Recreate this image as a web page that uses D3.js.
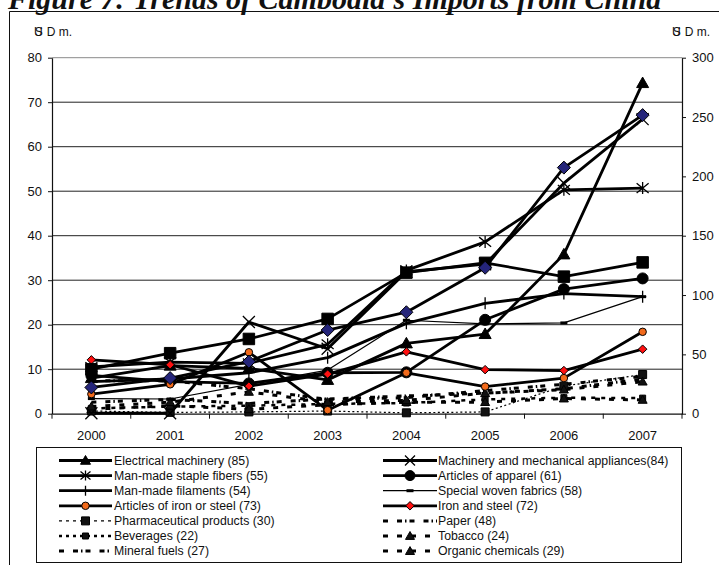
<!DOCTYPE html>
<html>
<head>
<meta charset="utf-8">
<script src="https://cdn.jsdelivr.net/npm/d3@7"></script>
<style>
  html, body { margin: 0; padding: 0; background: #fff; }
  svg { display: block; }
  text { font-family: "Liberation Sans", Arial, sans-serif; fill: #111; }
</style>
</head>
<body>
<svg id="chart" width="719" height="565"></svg>
<script>
// ---- data (US$ million) ----
const years = ["2000", "2001", "2002", "2003", "2004", "2005", "2006", "2007"];
const leftTicks = [0, 10, 20, 30, 40, 50, 60, 70, 80];
const rightTicks = [0, 50, 100, 150, 200, 250, 300];

const electricalMachinery = [8.0, 10.8, 10.2, 7.6, 15.8, 17.9, 35.8, 74.3];
const machineryAppliances = [0.1, 0.1, 20.6, 14.6, 31.9, 33.6, 51.8, 66.2];
const stapleFibers        = [10.5, 11.6, 11.3, 15.6, 32.2, 38.6, 50.3, 50.7];
const apparel             = [8.6, 7.2, 6.8, 9.2, 9.3, 21.1, 28.0, 30.4];
const filaments           = [7.2, 7.8, 9.2, 12.6, 20.3, 24.8, 27.0, 26.3];
const wovenFabrics        = [3.4, 3.3, 6.6, 9.8, 21.0, 20.2, 20.4, 26.3];
const ironSteelArticles   = [4.4, 6.6, 13.8, 0.8, 9.2, 6.1, 8.0, 18.4];
const ironSteel           = [12.1, 11.0, 6.2, 8.9, 13.9, 9.9, 9.7, 14.5];
const pharmaceuticals     = [0.6, 0.3, 0.4, 0.6, 0.2, 0.4, 6.2, 8.8];
const paper               = [7.4, 7.4, 5.6, 3.2, 3.6, 5.2, 6.6, 8.4];
const beverages           = [1.2, 1.6, 1.8, 2.2, 2.4, 3.2, 3.6, 3.5];
const tobacco             = [1.0, 1.8, 1.0, 2.0, 2.6, 2.6, 3.4, 3.1];
const mineralFuels        = [2.6, 3.2, 2.3, 3.3, 4.0, 4.6, 5.6, 7.8];
const organicChemicals    = [1.6, 2.6, 4.9, 2.6, 3.0, 4.6, 5.4, 7.2];
const unlistedSquares     = [10.0, 13.6, 16.8, 21.3, 31.7, 33.9, 30.8, 34.0];
const unlistedDiamonds    = [5.9, 8.0, 11.7, 18.8, 22.8, 32.8, 55.3, 67.1];

// ---- series styling ----
const DASH_LONG = "5,9";
const DASH_DOT = "5,9,5,3,1.5,3";
const series = [
  { name: "Pharmaceutical products (30)", values: pharmaceuticals, width: 1.2, dash: "2,2.5", legendDash: "3,4", marker: "square", size: 8, fill: "#111" },
  { name: "Beverages (22)", values: beverages, width: 2.5, dash: "4,6", legendDash: "3,4", marker: "square", size: 6, fill: "#111" },
  { name: "Paper (48)", values: paper, width: 3, dash: DASH_DOT, marker: null },
  { name: "Tobacco (24)", values: tobacco, width: 3, dash: DASH_LONG, marker: "triangle", size: 9, fill: "#111" },
  { name: "Mineral fuels (27)", values: mineralFuels, width: 3, dash: DASH_DOT, marker: null },
  { name: "Organic chemicals (29)", values: organicChemicals, width: 3, dash: DASH_LONG, marker: "triangle", size: 9, fill: "#111" },
  { name: "Special woven fabrics (58)", values: wovenFabrics, width: 1.2, dash: null, marker: "dash", size: 7, fill: "#111" },
  { name: "Man-made filaments (54)", values: filaments, width: 2.8, dash: null, marker: "plus", size: 12, fill: "none" },
  { name: "Articles of apparel (61)", values: apparel, width: 2.8, dash: null, marker: "circle", size: 11, fill: "#000" },
  { name: "Man-made staple fibers (55)", values: stapleFibers, width: 2.8, dash: null, marker: "asterisk", size: 12, fill: "none" },
  { name: "Machinery and mechanical appliances(84)", values: machineryAppliances, width: 2.8, dash: null, marker: "x", size: 12, fill: "none" },
  { name: "Electrical machinery (85)", values: electricalMachinery, width: 2.8, dash: null, marker: "triangle", size: 12, fill: "#000" },
  { name: "Articles of iron or steel (73)", values: ironSteelArticles, width: 2.8, dash: null, marker: "circle", size: 7.5, fill: "#f26a1b" },
  { name: "Iron and steel (72)", values: ironSteel, width: 2.8, dash: null, marker: "diamond", size: 8.5, fill: "#ff1010" },
  { name: null, values: unlistedSquares, width: 2.8, dash: null, marker: "square", size: 11.5, fill: "#000" },
  { name: null, values: unlistedDiamonds, width: 2.8, dash: null, marker: "diamond", size: 13, fill: "#25257a" }
];

const legendOrder = [
  ["Electrical machinery (85)", "Machinery and mechanical appliances(84)"],
  ["Man-made staple fibers (55)", "Articles of apparel (61)"],
  ["Man-made filaments (54)", "Special woven fabrics (58)"],
  ["Articles of iron or steel (73)", "Iron and steel (72)"],
  ["Pharmaceutical products (30)", "Paper (48)"],
  ["Beverages (22)", "Tobacco (24)"],
  ["Mineral fuels (27)", "Organic chemicals (29)"]
];

// ---- layout ----
const svg = d3.select("#chart");
const plot = { left: 52, right: 682, top: 57.7, bottom: 413.7 };

const x = d3.scaleBand().domain(years).range([plot.left, plot.right]).padding(0);
const cx = y => x(y) + x.bandwidth() / 2;
const yL = d3.scaleLinear().domain([0, 80]).range([plot.bottom, plot.top]);
const yR = d3.scaleLinear().domain([0, 300]).range([plot.bottom, plot.top]);

// frame and title
svg.append("line").attr("x1", 9.5).attr("x2", 719).attr("y1", 11.5).attr("y2", 11.5)
  .attr("stroke", "#111").attr("stroke-width", 1);
svg.append("line").attr("x1", 9.5).attr("x2", 9.5).attr("y1", 11.5).attr("y2", 565)
  .attr("stroke", "#111").attr("stroke-width", 1);
svg.append("text").attr("x", 8).attr("y", 8.5)
  .style("font-family", "'Liberation Serif', 'Times New Roman', serif")
  .style("font-weight", "bold").style("font-style", "italic").style("font-size", "30px")
  .text("Figure 7: Trends of Cambodia's Imports from China");

// unit labels
function unitLabel(xPos) {
  const t = svg.append("text").attr("x", xPos).attr("y", 36).style("font-size", "12px");
  t.append("tspan").text("U");
  t.append("tspan").attr("dx", -8).text("S");
  t.append("tspan").attr("dx", 4).text("D m.");
}
unitLabel(34);
unitLabel(672);

// gridlines
svg.append("g").selectAll("line").data(leftTicks.filter(d => d > 0)).join("line")
  .attr("x1", plot.left).attr("x2", plot.right)
  .attr("y1", d => yL(d)).attr("y2", d => yL(d))
  .attr("stroke", d => d === 80 ? "#8a8a8a" : "#222").attr("stroke-width", 1);

// axes
const axisStyle = g => {
  g.select(".domain").attr("stroke", "#111").attr("stroke-width", 1.2);
  g.selectAll(".tick line").attr("stroke", "#111");
  g.selectAll("text").style("font-size", "13px").style("font-family", "'Liberation Sans', Arial, sans-serif").attr("fill", "#111");
};
svg.append("g").attr("transform", `translate(${plot.left},0)`)
  .call(d3.axisLeft(yL).tickValues(leftTicks).tickSize(4).tickSizeOuter(0).tickPadding(6))
  .call(axisStyle);
svg.append("g").attr("transform", `translate(${plot.right},0)`)
  .call(d3.axisRight(yR).tickValues(rightTicks).tickSize(4).tickSizeOuter(0).tickPadding(6))
  .call(axisStyle);
const xAxis = svg.append("g").attr("transform", `translate(0,${plot.bottom})`)
  .call(d3.axisBottom(x).tickSize(0).tickSizeOuter(0).tickPadding(17))
  .call(axisStyle);
// category boundary ticks
xAxis.selectAll("line.bound").data(years.map(d => x(d)).concat([x.range()[1]])).join("line")
  .attr("class", "bound").attr("x1", d => d).attr("x2", d => d).attr("y1", 0).attr("y2", 5)
  .attr("stroke", "#111");

// ---- markers ----
function markerPath(type, s) {
  const r = s / 2;
  switch (type) {
    case "triangle": return `M0,${-r}L${r},${r * 0.75}L${-r},${r * 0.75}Z`;
    case "square": return `M${-r},${-r}H${r}V${r}H${-r}Z`;
    case "diamond": return `M0,${-r}L${r},0L0,${r}L${-r},0Z`;
    case "circle": return d3.arc()({ innerRadius: 0, outerRadius: r, startAngle: 0, endAngle: 2 * Math.PI });
    case "x": return `M${-r},${-r}L${r},${r}M${r},${-r}L${-r},${r}`;
    case "asterisk": return `M${-r},${-r * 0.8}L${r},${r * 0.8}M${r},${-r * 0.8}L${-r},${r * 0.8}M0,${-r}V${r}`;
    case "plus": return `M0,${-r}V${r}M${-r * 0.6},0H${r * 0.6}`;
    case "dash": return `M${-r},0H${r}`;
  }
  return "";
}
function drawMarker(g, s, px, py) {
  if (!s.marker) return;
  const stroked = ["x", "asterisk", "plus", "dash"].includes(s.marker);
  g.append("path")
    .attr("transform", `translate(${px},${py})`)
    .attr("d", markerPath(s.marker, s.size))
    .attr("fill", stroked ? "none" : s.fill)
    .attr("stroke", "#000")
    .attr("stroke-width", stroked ? (s.marker === "dash" ? 3 : 1.3) : 1);
}

// ---- lines ----
const line = d3.line().x((d, i) => cx(years[i])).y(d => yL(d));
const linesG = svg.append("g");
series.forEach(s => {
  linesG.append("path").datum(s.values)
    .attr("d", line)
    .attr("fill", "none")
    .attr("stroke", "#000")
    .attr("stroke-width", s.width)
    .attr("stroke-linejoin", "round")
    .attr("stroke-dasharray", s.dash);
});
const markersG = svg.append("g");
series.forEach(s => {
  s.values.forEach((v, i) => drawMarker(markersG, s, cx(years[i]), yL(v)));
});

// ---- legend ----
const legend = svg.append("g");
legend.append("rect").attr("x", 36.5).attr("y", 447.5).attr("width", 645).attr("height", 115)
  .attr("fill", "#fff").attr("stroke", "#111").attr("stroke-width", 1);
const cols = [{ x1: 59, x2: 112, tx: 114 }, { x1: 383, x2: 437, tx: 438 }];
const byName = new Map(series.filter(s => s.name).map(s => [s.name, s]));
legendOrder.forEach((row, r) => {
  const yy = 460.5 + r * 15.1;
  row.forEach((name, c) => {
    const s = byName.get(name);
    const col = cols[c];
    legend.append("line")
      .attr("x1", col.x1).attr("x2", col.x2).attr("y1", yy).attr("y2", yy)
      .attr("stroke", "#000").attr("stroke-width", s.width)
      .attr("stroke-dasharray", s.legendDash || s.dash);
    drawMarker(legend, Object.assign({}, s, { size: Math.min(s.size, 10) }), (col.x1 + col.x2) / 2, yy);
    legend.append("text").attr("x", col.tx).attr("y", yy + 4.3)
      .style("font-size", "12.3px").text(name);
  });
});
</script>
</body>
</html>
